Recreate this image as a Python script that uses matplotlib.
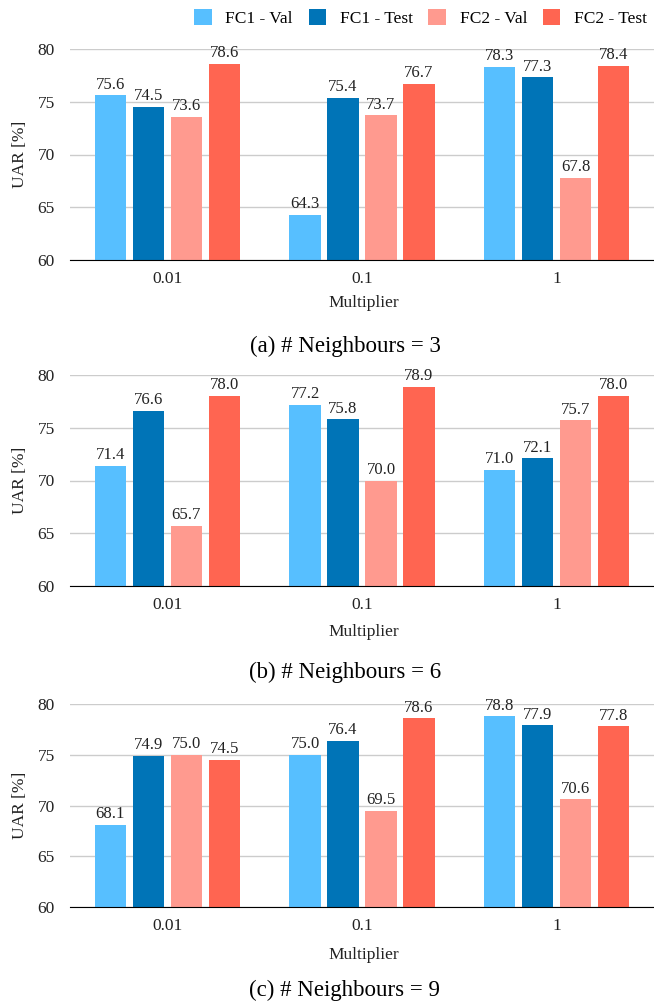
import matplotlib.pyplot as plt
import numpy as np

plt.rcParams['font.family'] = ['Liberation Serif', 'DejaVu Serif']

multipliers = ["0.01", "0.1", "1"]
series = ["FC1 - Val", "FC1 - Test", "FC2 - Val", "FC2 - Test"]
colors = ["#57BFFF", "#0074B7", "#FF9A8F", "#FF6551"]

# values per panel: rows = series, cols = multipliers
n3 = [[75.6, 64.3, 78.3],
      [74.5, 75.4, 77.3],
      [73.6, 73.7, 67.8],
      [78.6, 76.7, 78.4]]
n6 = [[71.4, 77.2, 71.0],
      [76.6, 75.8, 72.1],
      [65.7, 70.0, 75.7],
      [78.0, 78.9, 78.0]]
n9 = [[68.1, 75.0, 78.8],
      [74.9, 76.4, 77.9],
      [75.0, 69.5, 70.6],
      [74.5, 78.6, 77.8]]
captions = ["(a) # Neighbours = 3", "(b) # Neighbours = 6", "(c) # Neighbours = 9"]

W, H = 654, 1002
fig = plt.figure(figsize=(W / 100, H / 100), dpi=100)

# pixel positions (top of axes, bottom of axes, y of xlabel, y of caption)
panels = [(49, 260, 303, 346), (375, 586, 632, 672), (704, 907, 955, 990)]
left, right = 70, 654

handles = []
for data, cap, (top, bot, xl_y, cap_y) in zip([n3, n6, n9], captions, panels):
    ax = fig.add_axes([left / W, 1 - bot / H, (right - left) / W, (bot - top) / H])
    x = np.arange(len(multipliers))
    bw = 0.16
    step = 0.195
    for i, (vals, c) in enumerate(zip(data, colors)):
        pos = x + (i - 1.5) * step
        b = ax.bar(pos, vals, width=bw, color=c, bottom=0, zorder=3)
        if len(handles) < 4:
            handles.append(b)
        for p, v in zip(pos, vals):
            ax.text(p, v + 0.25, f"{v:.1f}", ha="center", va="bottom", fontsize=12, color="#222222")
    ax.set_ylim(60, 80)
    ax.set_xlim(-0.5, 2.5)
    ax.set_yticks([60, 65, 70, 75, 80])
    ax.set_xticks(x)
    ax.set_xticklabels(multipliers)
    ax.tick_params(axis="both", length=0, labelsize=12.5, colors="#222222")
    ax.tick_params(axis="x", pad=8)
    ax.tick_params(axis="y", pad=11)
    ax.grid(axis="y", color="#CCCCCC", linewidth=1, zorder=0)
    for s in ["left", "right", "top"]:
        ax.spines[s].set_visible(False)
    ax.spines["bottom"].set_color("black")
    ax.spines["bottom"].set_zorder(4)
    ax.set_ylabel("UAR [%]", fontsize=12.5, color="#222222", labelpad=7)
    fig.text(364 / W, 1 - xl_y / H, "Multiplier", ha="center", va="center", fontsize=12.5, color="#222222")
    fig.text(345 / W, 1 - cap_y / H, cap, ha="center", va="center", fontsize=16.5, color="black")

fig.legend(handles, series, loc="center right", bbox_to_anchor=(1.0, 1 - 18 / H), ncol=4,
           frameon=False, fontsize=12.5, handlelength=1.0, handleheight=1.0, handletextpad=0.8,
           columnspacing=0.9, borderaxespad=0.0)

fig.savefig("out.png", dpi=100)
